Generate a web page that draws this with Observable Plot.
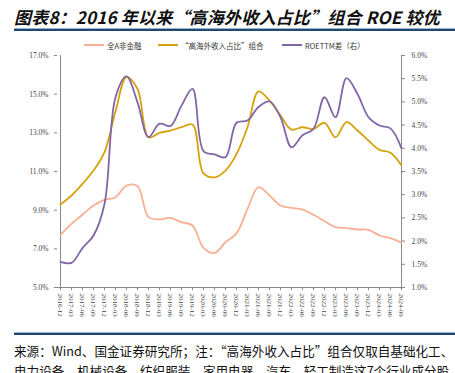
<!DOCTYPE html>
<html><head><meta charset="utf-8">
<script src="https://cdn.jsdelivr.net/npm/d3@7"></script>
<script src="https://cdn.jsdelivr.net/npm/@observablehq/plot@0.6"></script>
<style>
html,body{margin:0;padding:0;background:#fff;}
#wrap{position:relative;width:455px;height:373px;overflow:hidden;background:#fff;}
#title{position:absolute;left:14px;top:4px;font-family:"Noto Sans CJK SC",sans-serif;font-weight:bold;font-style:italic;font-size:17px;color:#111;white-space:nowrap;letter-spacing:0.2px;}
.rule{position:absolute;left:14px;width:441px;height:2px;background:#1c4a72;border-top:1px solid #9fb3c6;}
#legend{position:absolute;top:38px;left:0;width:455px;height:14px;font-family:"Noto Sans CJK SC",serif;font-size:7.5px;color:#333;}
.li{position:absolute;top:0;display:flex;align-items:center;height:14px;white-space:nowrap;}
.sw{display:inline-block;width:20px;height:2px;margin-right:3px;}
#plot{position:absolute;left:0;top:40px;}
#note{position:absolute;left:14px;top:341px;font-family:"Noto Sans CJK SC",sans-serif;font-size:12.6px;color:#111;white-space:nowrap;line-height:20px;}
</style></head>
<body><div id="wrap">
<div id="title">图表8：2016 年以来“高海外收入占比”组合 ROE 较优</div>
<div class="rule" style="top:28px"></div>
<div id="plot"></div>
<div id="legend"></div>
<div class="rule" style="top:332px"></div>
<div id="note">来源：Wind、国金证券研究所；注：“高海外收入占比”组合仅取自基础化工、<br>电力设备、机械设备、纺织服装、家用电器、汽车、轻工制造这7个行业成分股</div>
</div>
<script>
const quarters = ["2016-12","2017-03","2017-06","2017-09","2017-12","2018-03","2018-06","2018-09","2018-12","2019-03","2019-06","2019-09","2019-12","2020-03","2020-06","2020-09","2020-12","2021-03","2021-06","2021-09","2021-12","2022-03","2022-06","2022-09","2022-12","2023-03","2023-06","2023-09","2023-12","2024-03","2024-06","2024-09"];
const allA = [7.72,8.29,8.76,9.24,9.53,9.67,10.27,10.24,8.64,8.52,8.60,8.38,8.21,7.05,6.78,7.34,7.8,9.07,10.19,9.76,9.24,9.12,9.03,8.76,8.43,8.12,8.07,8.0,7.98,7.69,7.55,7.32];
const highOverseas = [9.3,9.76,10.36,11.05,12.0,14.1,15.88,15.28,12.77,13.0,13.12,13.29,13.43,10.9,10.7,11.05,11.9,13.29,15.14,14.67,13.9,13.17,13.29,13.2,13.52,12.77,13.55,13.12,12.6,12.12,11.97,11.31];
const roeDiff = [1.55,1.53,1.85,2.12,2.80,5.10,5.55,4.99,4.24,4.53,4.48,4.92,5.28,3.94,3.87,3.81,4.55,4.60,4.89,5.01,4.67,4.02,4.28,4.42,5.10,4.67,5.51,5.17,4.67,4.49,4.43,4.0];
const leftTicks = [5,7,9,11,13,15,17];
const rightTicks = [1.0,1.5,2.0,2.5,3.0,3.5,4.0,4.5,5.0,5.5,6.0];
const seriesNames = ["全A非金融","“高海外收入占比”组合","ROETTM差（右）"];
const colors = ["#f7b093","#d4a30c","#8266a8"];

const toLeft = r => 5 + (r - 1) * 2.4;
const toRight = l => (l - 5) / 2.4 + 1;

const rows = [];
quarters.forEach((q, i) => {
  rows.push({q, s: seriesNames[0], v: allA[i]});
  rows.push({q, s: seriesNames[1], v: highOverseas[i]});
  rows.push({q, s: seriesNames[2], v: toLeft(roeDiff[i])});
});

const font = "Liberation Serif";
const chart = Plot.plot({
  width: 455, height: 290,
  marginTop: 15, marginBottom: 43, marginLeft: 57, marginRight: 51,
  style: {fontFamily: font, fontSize: "7.5px", color: "#444", background: "transparent"},
  x: {type: "point", domain: quarters, padding: 0},
  y: {domain: [5, 17]},
  color: {domain: seriesNames, range: colors},
  marks: [
    Plot.ruleX([quarters[0]], {stroke: "#888", strokeWidth: 1}),
    Plot.ruleX([quarters[quarters.length-1]], {stroke: "#888", strokeWidth: 1}),
    Plot.ruleY([5], {stroke: "#888", strokeWidth: 1}),
    Plot.axisY({anchor: "left", ticks: leftTicks, tickSize: 3, tickPadding: 6, tickFormat: d => d.toFixed(1) + "%", label: null, stroke: "#888"}),
    Plot.axisY({anchor: "right", ticks: rightTicks.map(toLeft), tickSize: -3, tickPadding: 10, tickFormat: d => toRight(d).toFixed(1) + "%", label: null, stroke: "#888"}),
    Plot.axisX({ticks: quarters, tickSize: 3, tickRotate: 90, tickPadding: 3, label: null, stroke: "#888", fontSize: "7px"}),
    Plot.line(rows, {x: "q", y: "v", z: "s", stroke: "s", strokeWidth: 1.8, curve: "catmull-rom"})
  ]
});
document.getElementById("plot").appendChild(chart);

const lg = document.getElementById("legend");
const pos = [84, 158, 282];
seriesNames.forEach((n, i) => {
  const d = document.createElement("div");
  d.className = "li";
  d.style.left = pos[i] + "px";
  d.innerHTML = `<span class="sw" style="background:${colors[i]}"></span><span>${n}</span>`;
  lg.appendChild(d);
});
</script>
</body></html>
